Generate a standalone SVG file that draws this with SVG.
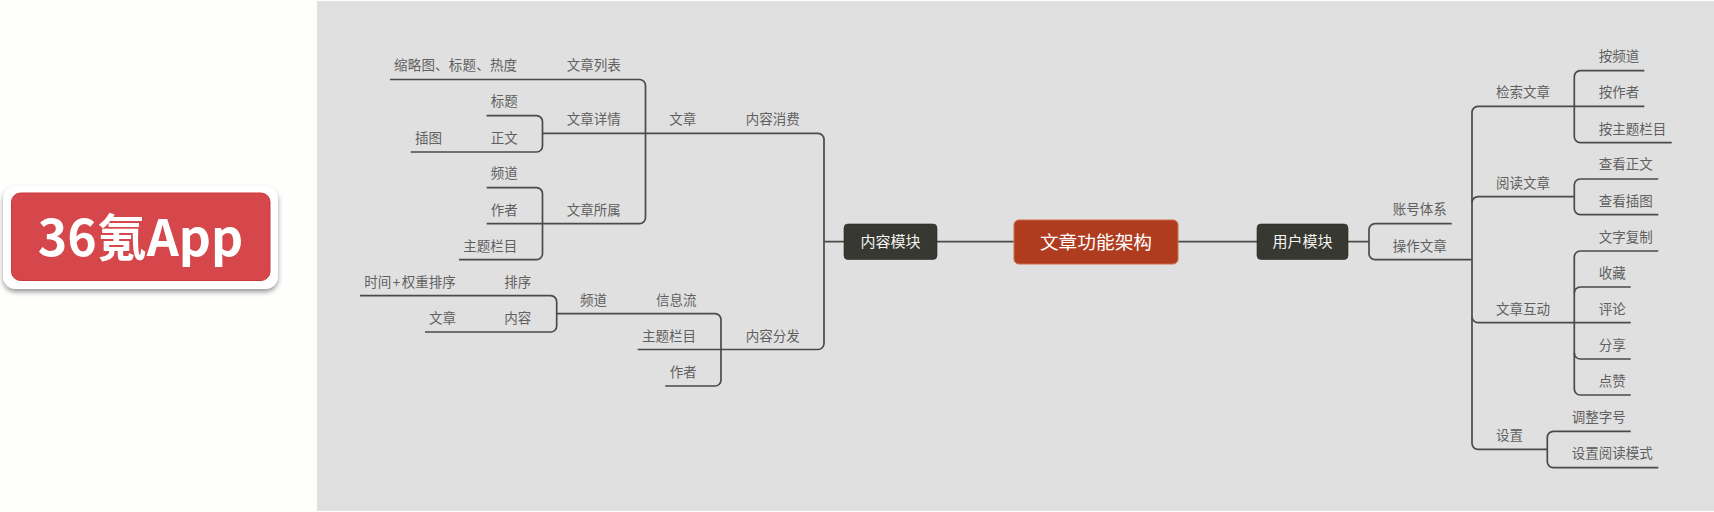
<svg xmlns="http://www.w3.org/2000/svg" width="1714" height="512" viewBox="0 0 1714 512">
<defs>
<filter id="sh" x="-10%" y="-20%" width="120%" height="150%"><feDropShadow dx="0" dy="3" stdDeviation="2.5" flood-color="#000" flood-opacity="0.4"/></filter>
</defs>
<style>
text{font-family:"Noto Sans CJK SC","Noto Sans",sans-serif}
.t{font-size:13.500px;fill:#606060}
.n{font-size:15px;fill:#f4f4f0;text-anchor:middle}
.l{fill:none;stroke:#4a4a48;stroke-width:1.7}
.d{fill:#383832;stroke:#2a2a26;stroke-width:.6}
</style>
<rect width="1714" height="512" fill="#fefefd"/>
<rect x="317" y="1" width="1397" height="510" fill="#e0e0e0"/>
<g id="app-badge">
<rect x="3" y="186" width="275" height="103" rx="13" fill="#fff" filter="url(#sh)"/>
<rect x="11.500" y="193" width="258.500" height="87.500" rx="9" fill="#d5474b" stroke="#c9383d" stroke-width="1"/>
<text x="140.500" y="255.500" font-size="50" font-weight="700" fill="#fff" text-anchor="middle">36氪App</text>
</g>
<g id="connectors" class="l">
<path d="M937 241.700H1014M1178 241.700H1257M1348 241.700H1369M824 241.700H844"/>
<path d="M542.500 133.300H818a6 6 0 0 1 6 6V343.500a6 6 0 0 1 -6 6H637.700"/>
<path d="M390 79.500H639.500a6 6 0 0 1 6 6V217.700a6 6 0 0 1 -6 6H486.700"/>
<path d="M486.500 115.700H536.500a6 6 0 0 1 6 6V146a6 6 0 0 1 -6 6H410.700"/>
<path d="M486.700 187.700H536.500a6 6 0 0 1 6 6V253.700a6 6 0 0 1 -6 6H459"/>
<path d="M360 295.700H550.700a6 6 0 0 1 6 6V326a6 6 0 0 1 -6 6H425"/>
<path d="M556.700 313.700H715a6 6 0 0 1 6 6V380a6 6 0 0 1 -6 6H665.300"/>
<path d="M1451.700 223.700H1375a6 6 0 0 0 -6 6V253.700a6 6 0 0 0 6 6H1472"/>
<path d="M1644.300 106.300H1478a6 6 0 0 0 -6 6V443.300a6 6 0 0 0 6 6H1547.300"/>
<path d="M1644.300 70.700H1580.300a6 6 0 0 0 -6 6V136.700a6 6 0 0 0 6 6H1671.700"/>
<path d="M1472 202.700a6 6 0 0 1 6 -6H1574.300"/>
<path d="M1658.300 179H1580.300a6 6 0 0 0 -6 6V208.700a6 6 0 0 0 6 6H1658.300"/>
<path d="M1658.300 251H1580.300a6 6 0 0 0 -6 6V389a6 6 0 0 0 6 6H1630.700"/>
<path d="M1630.700 287H1580.300a6 6 0 0 0 -6 6"/>
<path d="M1574.300 353a6 6 0 0 0 6 6H1630.700"/>
<path d="M1472 316.700a6 6 0 0 0 6 6H1630.700"/>
<path d="M1630.700 431.300H1553.300a6 6 0 0 0 -6 6V461.700a6 6 0 0 0 6 6H1658.300"/>
</g>
<g id="center"><rect x="1014" y="220" width="164" height="44" rx="5" fill="#b03c20" stroke="#d2694c" stroke-width="1"/><text x="1096" y="248.500" font-size="18.700" fill="#fff" text-anchor="middle">文章功能架构</text></g>
<g id="content-module"><rect class="d" x="844" y="224" width="93" height="35.500" rx="4"/><text class="n" x="890.500" y="247">内容模块</text></g>
<g id="user-module"><rect class="d" x="1257" y="224" width="91" height="35.500" rx="4"/><text class="n" x="1302.500" y="247">用户模块</text></g>
<g id="t1"><text class="t" x="394" y="70" letter-spacing=".2">缩略图、标题、热度</text></g>
<g id="t2"><text class="t" x="566.700" y="70">文章列表</text></g>
<g id="t3"><text class="t" x="490.700" y="105.800">标题</text></g>
<g id="t4"><text class="t" x="566.700" y="124.300">文章详情</text></g>
<g id="t5"><text class="t" x="669.300" y="124.300">文章</text></g>
<g id="t6"><text class="t" x="745.700" y="124.300">内容消费</text></g>
<g id="t7"><text class="t" x="415" y="142.700">插图</text></g>
<g id="t8"><text class="t" x="490.700" y="142.700">正文</text></g>
<g id="t9"><text class="t" x="490.700" y="178">频道</text></g>
<g id="t10"><text class="t" x="490.700" y="214.500">作者</text></g>
<g id="t11"><text class="t" x="566.700" y="214.500">文章所属</text></g>
<g id="t12"><text class="t" x="463.300" y="250.500">主题栏目</text></g>
<g id="t13"><text class="t" x="364.300" y="286.700">时间<tspan dx="1.500">+</tspan><tspan dx="1.500">权重排序</tspan></text></g>
<g id="t14"><text class="t" x="504.300" y="286.700">排序</text></g>
<g id="t15"><text class="t" x="580" y="304.800">频道</text></g>
<g id="t16"><text class="t" x="656" y="304.800">信息流</text></g>
<g id="t17"><text class="t" x="429" y="322.800">文章</text></g>
<g id="t18"><text class="t" x="504.300" y="322.800">内容</text></g>
<g id="t19"><text class="t" x="642" y="340.800">主题栏目</text></g>
<g id="t20"><text class="t" x="745.700" y="340.800">内容分发</text></g>
<g id="t21"><text class="t" x="669.700" y="376.800">作者</text></g>
<g id="t22"><text class="t" x="1598.800" y="60.800">按频道</text></g>
<g id="t23"><text class="t" x="1598.800" y="97">按作者</text></g>
<g id="t24"><text class="t" x="1598.800" y="133.500">按主题栏目</text></g>
<g id="t25"><text class="t" x="1496" y="97">检索文章</text></g>
<g id="t26"><text class="t" x="1598.800" y="169">查看正文</text></g>
<g id="t27"><text class="t" x="1598.800" y="205.500">查看插图</text></g>
<g id="t28"><text class="t" x="1496" y="187.500">阅读文章</text></g>
<g id="t29"><text class="t" x="1392.700" y="214">账号体系</text></g>
<g id="t30"><text class="t" x="1392.700" y="250.500">操作文章</text></g>
<g id="t31"><text class="t" x="1598.800" y="241.500">文字复制</text></g>
<g id="t32"><text class="t" x="1598.800" y="277.800">收藏</text></g>
<g id="t33"><text class="t" x="1598.800" y="313.800">评论</text></g>
<g id="t34"><text class="t" x="1598.800" y="349.800">分享</text></g>
<g id="t35"><text class="t" x="1598.800" y="385.800">点赞</text></g>
<g id="t36"><text class="t" x="1496" y="313.800">文章互动</text></g>
<g id="t37"><text class="t" x="1496" y="439.800">设置</text></g>
<g id="t38"><text class="t" x="1571.700" y="421.800">调整字号</text></g>
<g id="t39"><text class="t" x="1571.700" y="457.800">设置阅读模式</text></g>
</svg>
